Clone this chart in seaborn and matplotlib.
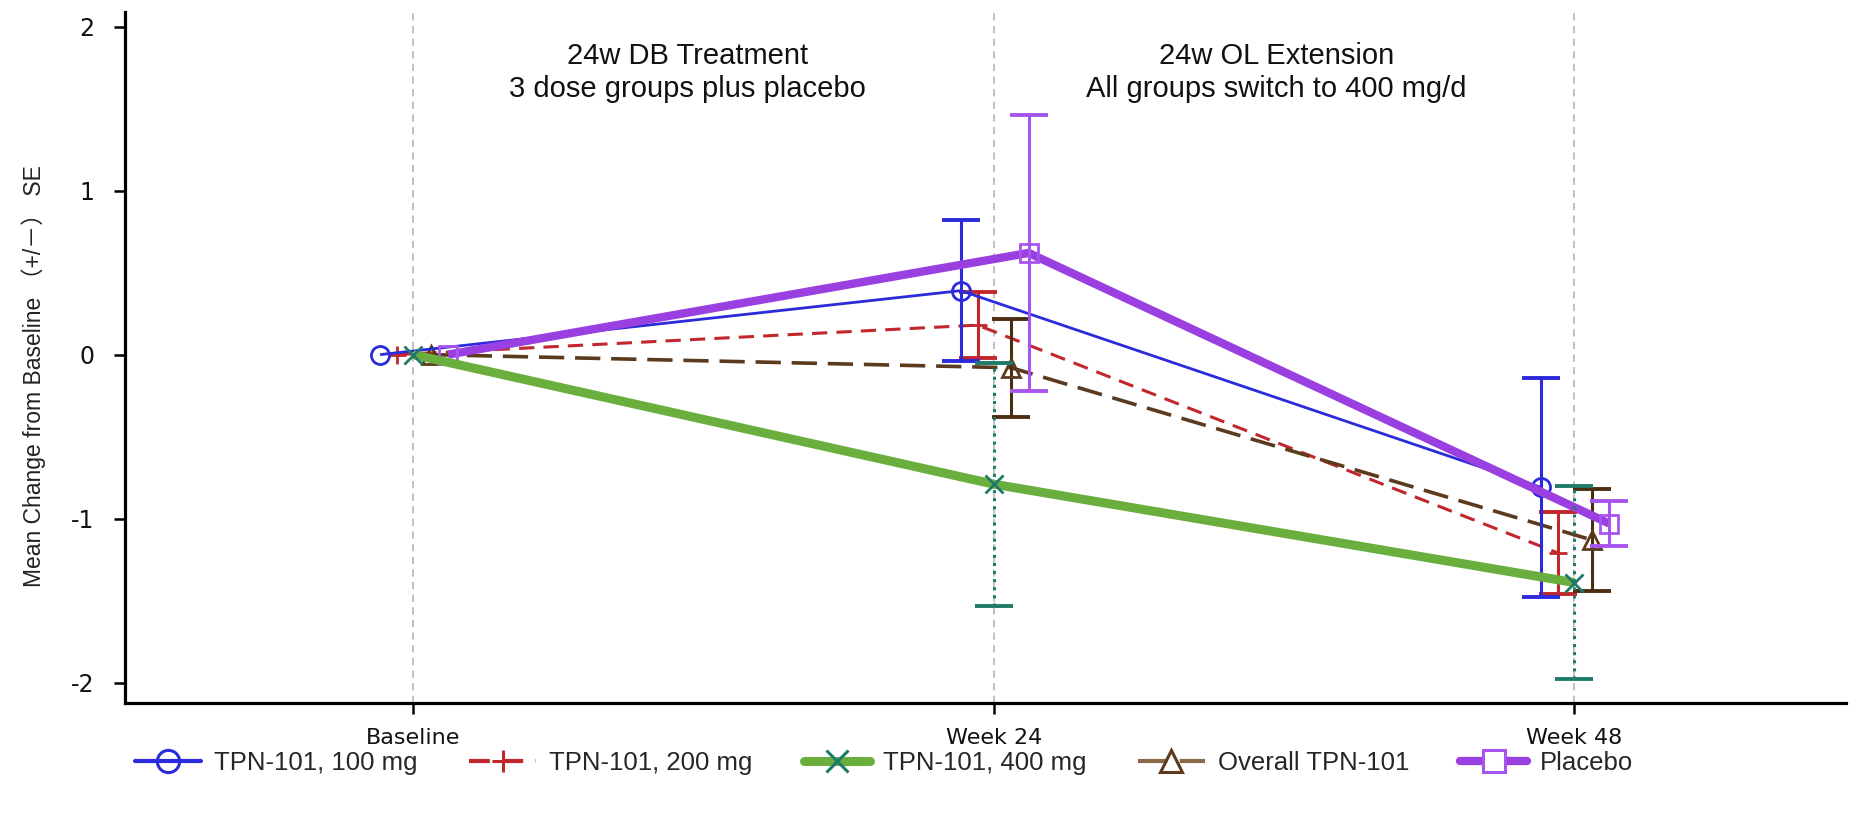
import numpy as np
import pandas as pd
import matplotlib
matplotlib.use("Agg")
import matplotlib.pyplot as plt
import seaborn as sns
from matplotlib.lines import Line2D
from matplotlib import font_manager as fm

# ---------------- data ----------------
timepoints = ["Baseline", "Week 24", "Week 48"]
groups = ["TPN-101, 100 mg", "TPN-101, 200 mg", "TPN-101, 400 mg",
          "Overall TPN-101", "Placebo"]
mean_100 = [0.0, 0.39, -0.81]
se_100 = [0.0, 0.43, 0.67]
mean_200 = [0.0, 0.18, -1.21]
se_200 = [0.0, 0.20, 0.25]
mean_400 = [0.0, -0.79, -1.39]
se_400 = [0.0, 0.74, 0.59]
mean_all = [0.0, -0.08, -1.13]
se_all = [0.0, 0.30, 0.31]
mean_pbo = [0.0, 0.62, -1.03]
se_pbo = [0.0, 0.84, 0.14]
yticks = [-2, -1, 0, 1, 2]
ytick_labels = ["-2", "-1", "0", "1", "2"]
phase_labels = ["24w DB Treatment\n3 dose groups plus placebo",
                "24w OL Extension\nAll groups switch to 400 mg/d"]
ylabel = "Mean Change from Baseline \uff08+/\uff0d\uff09 SE"

means = [mean_100, mean_200, mean_400, mean_all, mean_pbo]
ses = [se_100, se_200, se_400, se_all, se_pbo]

# ---------------- styles ----------------
offsets = [-0.057, -0.028, 0.0, 0.030, 0.060]
line_colors = ["#2B2BDB", "#C1272D", "#6AAE3E", "#5C3A1E", "#9B40E0"]
marker_colors = ["#2B2BDB", "#C1272D", "#1F7A6A", "#5C3A1E", "#A855F0"]
err_colors = ["#2B2BDB", "#C1272D", "#1F7A6A", "#4B2E12", "#A855F0"]
legend_colors = ["#2B2BDB", "#C1272D", "#6AAE3E", "#8A6A48", "#9B40E0"]
markers = ["o", "+", "x", "^", "s"]
lws = [2.0, 2.2, 6.5, 2.6, 6.0]
dashes = [(None), (5, 3), (None), (7, 3), (None)]
err_ls = ["-", "-", ":", "-", "-"]
zorders = [4, 3, 6, 3.5, 5]

sns.set_theme(style="white")
avail = {f.name for f in fm.fontManager.ttflist}
narrow = "Liberation Sans Narrow" if "Liberation Sans Narrow" in avail else "Liberation Sans"
plt.rcParams["font.family"] = ["DejaVu Sans", "Noto Sans CJK JP"]
plt.rcParams["axes.unicode_minus"] = False

rows = []
for g, m, s, off in zip(groups, means, ses, offsets):
    for i, t in enumerate(timepoints):
        rows.append({"group": g, "time": t, "x": i + off, "mean": m[i], "se": s[i]})
df = pd.DataFrame(rows)

fig = plt.figure(figsize=(18.61, 8.19), dpi=100)
ax = fig.add_axes([0.067, 0.1417, 0.925, 0.8438])

# vertical reference lines
for i in range(len(timepoints)):
    ax.axvline(i, color="#BBBBBB", lw=1.3, ls=(0, (4, 3)), zorder=0)

for k, g in enumerate(groups):
    sub = df[df["group"] == g]
    sns.lineplot(data=sub, x="x", y="mean", ax=ax, color=line_colors[k],
                 lw=lws[k], sort=True, zorder=zorders[k], legend=False,
                 errorbar=None)
    ln = ax.lines[-1]
    if dashes[k] is not None:
        ln.set_dashes(dashes[k])
    ln.set_solid_capstyle("butt")
    # markers
    ax.plot(sub["x"], sub["mean"], ls="none", marker=markers[k], ms=13,
            mfc="none", mec=marker_colors[k], mew=2.0, zorder=zorders[k] + 0.2)
    # error bars (post-baseline)
    sub2 = sub[sub["se"] > 0]
    eb = ax.errorbar(sub2["x"], sub2["mean"], yerr=sub2["se"], fmt="none",
                     ecolor=err_colors[k], elinewidth=2.2, capsize=14,
                     capthick=2.8, zorder=zorders[k] + 0.1)
    for lc in eb[2]:
        lc.set_linestyle(err_ls[k])

ax.set_xlim(-0.497, 2.468)
ax.set_ylim(-2.124, 2.09)
ax.set_xticks(range(len(timepoints)))
ax.set_xticklabels(timepoints, fontsize=16)
ax.set_yticks(yticks)
ax.set_yticklabels(ytick_labels, fontsize=17)
ax.set_xlabel("")
ax.set_ylabel(ylabel, fontsize=16.5, family=[narrow, "Noto Sans CJK JP"], color="#222222")
ax.yaxis.set_label_coords(-0.046, 0.473)

for side in ["top", "right"]:
    ax.spines[side].set_visible(False)
for side in ["left", "bottom"]:
    ax.spines[side].set_color("black")
    ax.spines[side].set_linewidth(2.3)
ax.tick_params(axis="both", which="major", length=8, width=1.8, color="black",
               direction="out", left=True, bottom=True, labelcolor="#111111")
ax.tick_params(axis="x", pad=10)
ax.tick_params(axis="y", pad=14)

ax.text(0.472, 1.72, phase_labels[0], ha="center", va="center", fontsize=21,
        family=[narrow, "DejaVu Sans"], linespacing=1.25, color="#111111")
ax.text(1.487, 1.72, phase_labels[1], ha="center", va="center", fontsize=21,
        family=[narrow, "DejaVu Sans"], linespacing=1.25, color="#111111")

# legend
handles = []
for k, g in enumerate(groups):
    kw = dict(color=legend_colors[k], lw=lws[k] if k in (2, 4) else 3.0,
              marker=markers[k], ms=16, mfc="none" if k != 4 else "white",
              mec=marker_colors[k] if k != 2 else "#1F7A6A", mew=2.2)
    h = Line2D([], [], **kw)
    if dashes[k] is not None:
        h.set_dashes(dashes[k])
    handles.append(h)
fig.legend(handles, groups, loc="center", bbox_to_anchor=(0.475, 0.068), ncol=5,
           frameon=False, prop={"family": narrow, "size": 18.5},
           handlelength=2.6, columnspacing=2.0, handletextpad=0.5)

fig.savefig("out.png", dpi=100)
